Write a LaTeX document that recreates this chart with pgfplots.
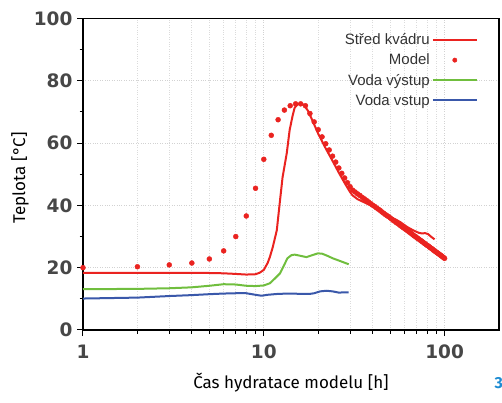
\documentclass[border=0pt]{standalone}
\usepackage{fontspec}
\setmainfont{Fira Sans}
\newfontfamily\tickfont{DejaVu Sans}
\newfontfamily\legfont{Liberation Sans}
\usepackage{pgfplots}
\pgfplotsset{compat=1.18}

\definecolor{cred}{RGB}{234,35,32}
\definecolor{cgreen}{RGB}{112,190,62}
\definecolor{cblue}{RGB}{58,88,170}
\definecolor{cnum}{RGB}{30,140,210}

\begin{document}
\begin{tikzpicture}
\begin{axis}[
  name=ax,
  scale only axis,
  width=416pt, height=311.5pt,
  xmode=log, xmin=1, xmax=200,
  ymin=0, ymax=100,
  xtick={1,10,100}, xticklabels={1,10,100},
  minor xtick={2,3,4,5,6,7,8,9,20,30,40,50,60,70,80,90},
  ytick={0,20,40,60,80,100}, yticklabels={0,20,40,60,80,100},
  minor ytick={10,30,50,70,90},
  tick pos=left, tick align=outside,
  major tick length=6pt, minor tick length=3.5pt,
  every tick/.style={black, line width=1pt},
  axis line style={black, line width=1.4pt},
  xmajorgrids, xminorgrids, ymajorgrids,
  major grid style={dotted, gray!35, line width=0.8pt},
  minor grid style={dotted, gray!28, line width=0.8pt},
  ticklabel style={font=\tickfont\bfseries\fontsize{18.5}{18.5}\selectfont, text=black!72},
  xticklabel style={yshift=-5pt},
  yticklabel style={xshift=-1pt},
  xlabel={Čas hydratace modelu [h]},
  ylabel={Teplota [°C]},
  xlabel style={font=\fontsize{17}{17}\selectfont, at={(axis description cs:0.5,0)}, anchor=center, yshift=-53pt},
  ylabel style={font=\fontsize{17}{17}\selectfont, at={(axis description cs:0,0.489)}, anchor=center, yshift=63pt},
  legend style={at={(1,1)}, anchor=north east, xshift=-18pt, yshift=-11pt, draw=none, fill=none,
    font=\legfont\fontsize{15}{15}\selectfont, text=black!80, row sep=3.7pt},
  legend cell align=right,
  legend plot pos=right,
  legend image code/.code={\draw[#1] (0pt,0pt) -- (44pt,0pt);},
]
\addplot[cred, line width=2pt] coordinates {
(1,18.3) (2,18.3) (3,18.3) (4,18.3) (5,18.3) (6,18.2) (7,18.0) (8,17.8) (9,17.9) (9.5,18.4)
(10,19.3) (10.5,21.5) (10.8,23.4) (11.2,26.5) (11.8,32.0) (12.3,41.7) (12.7,49.0) (13.4,56.8)
(13.9,64.2) (14.4,68.5) (14.8,71.3) (15.4,72.5) (16,72.7) (16.6,72.3) (17.5,70.5) (18.5,67.5)
(20,63.0) (22,58.3) (24,54.3) (26,50.5) (28,47.2) (30,44.3) (31,43.2) (33,42.0) (35,41.3)
(38,40.3) (42,38.9) (46,37.6) (50,36.3) (54,35.4) (57,34.6) (62,33.1) (67,32.0) (72,31.2)
(75,31.0) (78,31.1) (81,30.8) (84,30.0) (88,29.1)};
\addlegendentry{Střed kvádru}
\addplot[cred, only marks, mark=*, mark size=2.5pt,
  legend image code/.code={\fill[cred] (22pt,0pt) circle (2.2pt);}] coordinates {
(1,20.0) (2,20.3) (3,20.9) (4,21.5) (5,22.8) (6,25.4) (7,30.0) (8,36.6) (9,45.5) (10,54.8)
(11,62.5) (12,67.5) (13,70.6) (14,72.0) (15,72.6) (16,72.6) (17,72.0) (18,69.5) (19,66.8)
(20,64.3) (21,62.0) (22,59.8) (23,57.8) (24,55.8) (25,53.9) (26,52.0) (27,50.3) (28,48.8)
(29,47.3) (30,46.0) (31,44.9) (32,44.3) (33,43.7) (34,43.2) (35,42.6) (36,42.1) (37,41.6)
(38,41.1) (39,40.6) (40,40.1) (41,39.7) (42,39.2) (43,38.8) (44,38.4) (45,37.9) (46,37.5)
(47,37.1) (48,36.7) (49,36.4) (50,36.0) (51,35.6) (52,35.2) (53,34.9) (54,34.5) (55,34.2)
(56,33.9) (57,33.5) (58,33.2) (59,32.9) (60,32.6) (61,32.3) (62,32.0) (63,31.7) (64,31.4)
(65,31.1) (66,30.8) (67,30.5) (68,30.2) (69,30.0) (70,29.7) (71,29.4) (72,29.2) (73,28.9)
(74,28.7) (75,28.4) (76,28.2) (77,27.9) (78,27.7) (79,27.4) (80,27.2) (81,27.0) (82,26.8)
(83,26.5) (84,26.3) (85,26.1) (86,25.9) (87,25.6) (88,25.4) (89,25.2) (90,25.0) (91,24.8)
(92,24.6) (93,24.4) (94,24.2) (95,24.0) (96,23.8) (97,23.6) (98,23.4) (99,23.2) (100,23.0)};
\addlegendentry{Model}
\addplot[cgreen, line width=2pt] coordinates {
(1,13.1) (2,13.2) (3,13.4) (4,13.7) (5,14.2) (6,14.7) (7,14.6) (8,14.2) (9,14.1) (10,14.3)
(10.8,15.0) (11.5,16.5) (12.3,18.2) (13,21.0) (13.5,23.0) (14.2,24.0) (14.8,24.2) (16,23.8)
(17.2,23.4) (18.5,24.0) (19.9,24.6) (21,24.5) (22.5,23.8) (24.1,23.0) (26,22.3) (28,21.6) (29.5,21.1)};
\addlegendentry{Voda výstup}
\addplot[cblue, line width=2pt] coordinates {
(1,10.1) (2,10.4) (3,10.9) (4,11.2) (5,11.5) (6,11.7) (7,11.8) (8,11.8) (9,11.3) (9.7,11.0)
(10.5,11.3) (12,11.6) (14,11.7) (16,11.6) (18,11.6) (19,11.8) (20.5,12.4) (22.2,12.6) (24,12.4)
(26,12.0) (28,12.1) (29.5,12.1)};
\addlegendentry{Voda vstup}
\end{axis}
\node[anchor=west, text=cnum, font=\bfseries\fontsize{16}{16}\selectfont] at ([shift={(-8pt,-53pt)}]ax.south east) {3};
\pgfresetboundingbox
\path[use as bounding box] ([shift={(-83pt,-73pt)}]ax.south west) rectangle ([shift={(3pt,18.5pt)}]ax.north east);
\end{tikzpicture}
\end{document}
